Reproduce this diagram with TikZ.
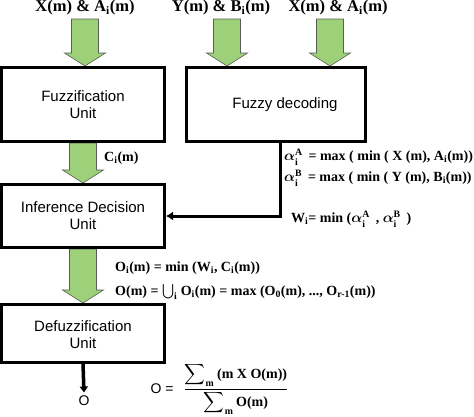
\documentclass[tikz,border=0pt]{standalone}
\usepackage{amsmath}
\usepackage{fontspec}
\setmainfont{Liberation Sans}
\newfontfamily\frmfont{Liberation Serif}
\usetikzlibrary{arrows.meta,calc,backgrounds}
\definecolor{arrgreen}{RGB}{158,208,122}
\definecolor{arredge}{RGB}{85,95,85}
% fat green arrow from #1 down to the height of #2
\newcommand{\fatarrow}[2]{%
  \filldraw[fill=arrgreen,draw=arredge,line width=0.6pt]
    let \p1=#1, \p2=#2 in
    (\x1-13.5pt,\y1) -- (\x1+13.5pt,\y1) -- (\x1+13.5pt,\y2+13pt)
    -- (\x1+20.5pt,\y2+13pt) -- (\x1,\y2) -- (\x1-20.5pt,\y2+13pt)
    -- (\x1-13.5pt,\y2+13pt) -- cycle;}

\begin{document}
\begin{tikzpicture}[x=1pt,y=-1pt,
  unit/.style={draw,line width=3.2pt,align=center,inner sep=0pt,
    font=\fontsize{15}{17}\selectfont},
  inlab/.style={font=\frmfont\bfseries\boldmath\fontsize{16.5}{18}\selectfont},
  frm/.style={anchor=west,inner sep=1pt,font=\frmfont\bfseries\boldmath\fontsize{14}{16}\selectfont}]
\useasboundingbox (0,0) rectangle (474,416);

% inputs
\node[inlab] (xlab1) at (85,8) {X(m) \& A\textsubscript{i}(m)};
\node[inlab] (ylab) at (221,8) {Y(m) \& B\textsubscript{i}(m)};
\node[inlab] (xlab2) at (338,8) {X(m) \& A\textsubscript{i}(m)};

% units
\node[unit,minimum width=162.8pt,minimum height=73.8pt] (fuz) at (83,104.5) {Fuzzification\\Unit};
\node[unit,minimum width=178.8pt,minimum height=73.8pt] (dec) at (276,104.5) {\hspace*{18pt}Fuzzy decoding};
\node[unit,minimum width=162.8pt,minimum height=62.8pt] (inf) at (83,216) {Inference Decision\\Unit};
\node[unit,minimum width=162.8pt,minimum height=57.8pt] (def) at (83,333.5) {\\[-4pt]Defuzzification\\Unit};

% green arrows
\begin{scope}[on background layer]
\fatarrow{(xlab1.south)}{(fuz.north)}
\fatarrow{($(ylab.south)+(6,0)$)}{(dec.north)}
\fatarrow{($(xlab2.south)+(-8,0)$)}{(dec.north)}
\fatarrow{(fuz.south)}{(inf.north)}
\fatarrow{(inf.south)}{(def.north)}
\end{scope}

% weights into inference
\coordinate (join) at (280,216);
\draw[line width=3pt,-{Latex[length=7pt,width=9pt]}] (dec.south -| join) -- (join) -- (inf.east);

% formulas
\node[frm] (cilab) at (103,158) {C\textsubscript{i}(m)};
\node[frm] (alpa) at (283,157) {$\alpha^{\text{A}}_{\text{i}}$\, = max ( min ( X (m), A\textsubscript{i}(m))};
\node[frm] (alpb) at (283,178) {$\alpha^{\text{B}}_{\text{i}}$\, = max ( min ( Y (m), B\textsubscript{i}(m))};
\node[frm] (wform) at (290,219) {W\textsubscript{i}= min ($\alpha^{\text{A}}_{\text{i}}$\, , $\alpha^{\text{B}}_{\text{i}}$\, )};
\node[frm] (oiform) at (114,268) {O\textsubscript{i}(m) = min (W\textsubscript{i}, C\textsubscript{i}(m))};
\node[frm] (oform) at (114,292) {O(m) = $\bigcup_{\text{i}}$ O\textsubscript{i}(m) = max (O\textsubscript{0}(m), ..., O\textsubscript{r-1}(m))};

% output
\node[font=\fontsize{14}{16}\selectfont] (out) at (84,401) {O};
\draw[line width=3.5pt,-{Triangle[length=6pt,width=8pt]}] (def.south) -- (out.north);
\node[font=\fontsize{14}{16}\selectfont] (oeq) at (162,389) {O =};
\node[frm,anchor=center] (frac) at (236,389) {$\dfrac{\displaystyle\sum\nolimits_{\text{m}} \text{(m X O(m))}}{\displaystyle\sum\nolimits_{\text{m}} \text{O(m)}}$};
\end{tikzpicture}
\end{document}
